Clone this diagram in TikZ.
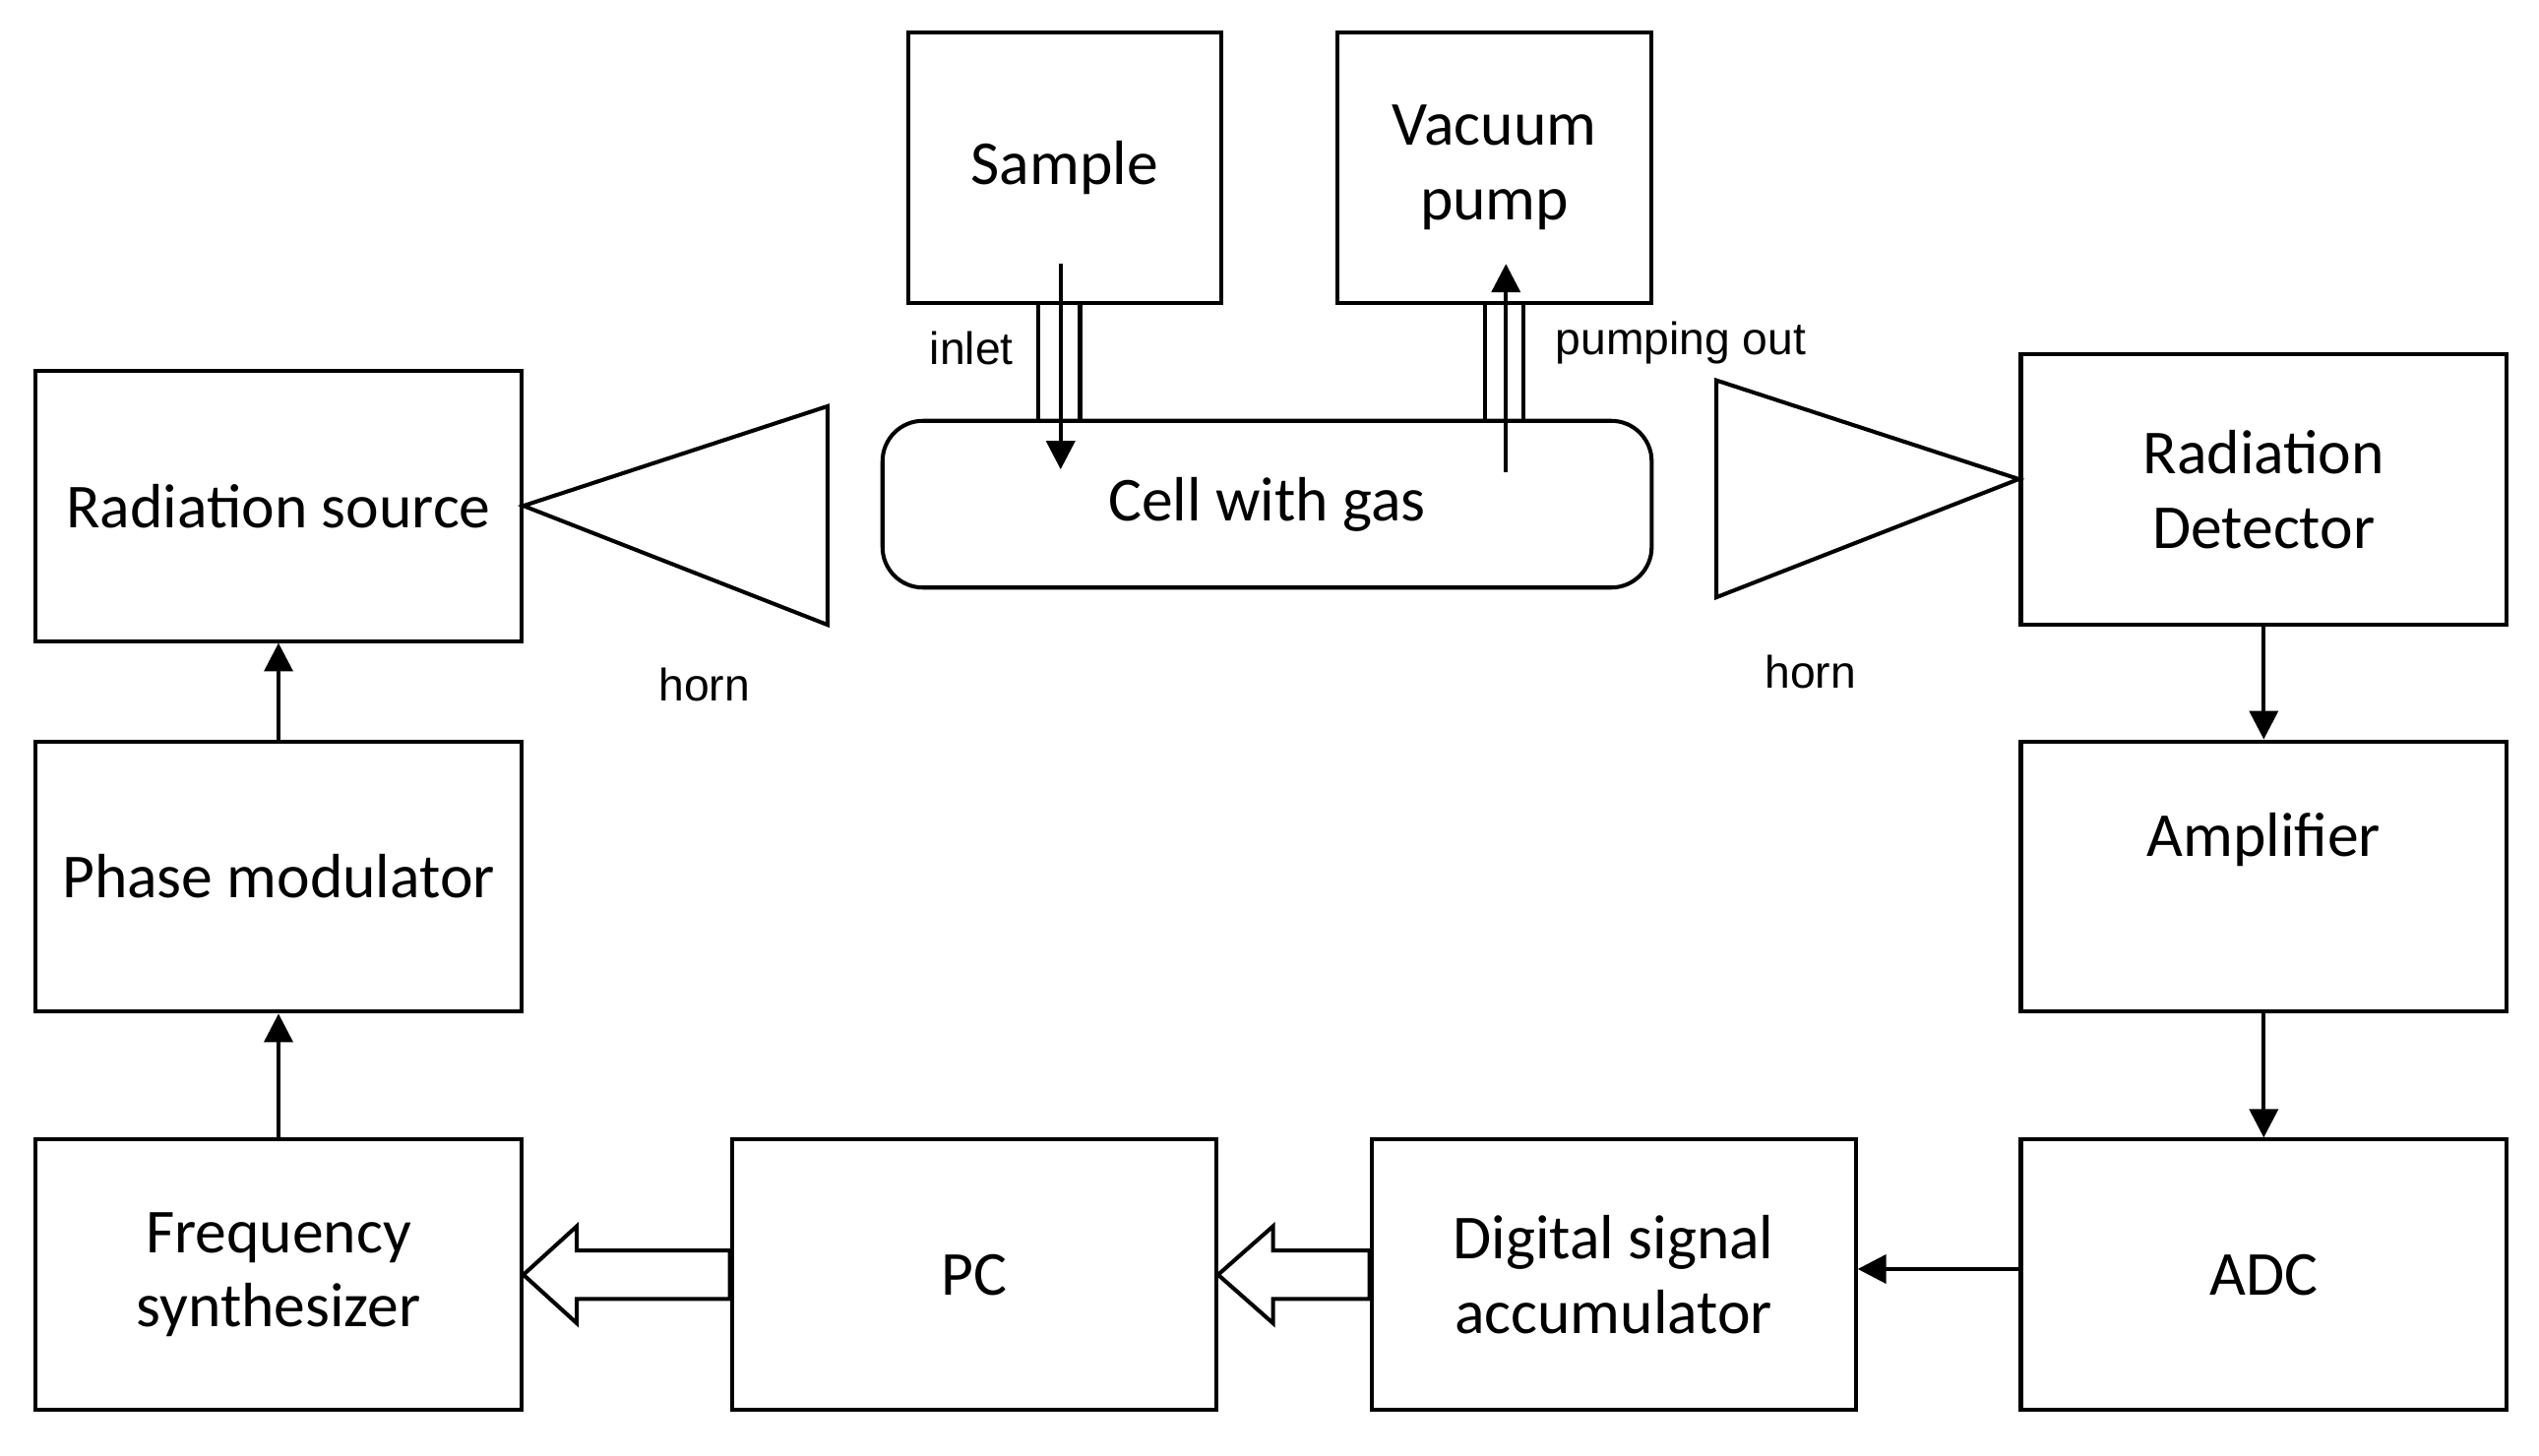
\documentclass[tikz,border=0pt]{standalone}
\usepackage{fontspec}
\setmainfont{Carlito}
\newfontfamily\labelfont{Liberation Sans}
\usetikzlibrary{arrows.meta,calc}
\tikzset{
  box/.style={draw, line width=0.7pt, minimum width=3cm, minimum height=1.67cm, align=center, font=\fontsize{11}{13}\selectfont},
  small/.style={font=\labelfont\fontsize{8}{10}\selectfont},
  arr/.style={-{Triangle[length=5pt,width=5pt]}, line width=0.7pt},
  hollow/.style={draw, line width=0.7pt, fill=white}
}
\begin{document}
\begin{tikzpicture}
\useasboundingbox (0,0) rectangle (15.68,8.99);
% main boxes
\node[box] (src) at (1.72,5.865) {Radiation source};
\node[box] (phase) at (1.72,3.575) {Phase modulator};
\node[box] (freq) at (1.72,1.115) {Frequency\\synthesizer};
\node[box, minimum width=2.99cm] (pc) at (6.015,1.115) {PC};
\node[box, minimum width=2.99cm] (dsa) at (9.965,1.115) {Digital signal\\accumulator};
\node[box] (adc) at (13.98,1.115) {ADC};
\node[box] (amp) at (13.98,3.575) {};
\node[font=\fontsize{11}{13}\selectfont] (amptext) at ([yshift=-0.62cm]amp.north) {Amplifier};
\node[box] (det) at (13.98,5.965) {Radiation\\Detector};
\node[box, minimum width=1.93cm] (sample) at (6.575,7.955) {Sample};
\node[box, minimum width=1.94cm] (pump) at (9.23,7.955) {Vacuum\\pump};
\node[box, minimum width=4.75cm, minimum height=1.03cm, rounded corners=0.25cm] (cell) at (7.825,5.875) {Cell with gas};

% horns
\coordinate (lh1) at (5.11,6.48);
\coordinate (lh2) at (5.11,5.13);
\coordinate (rh1) at (10.60,6.64);
\coordinate (rh2) at (10.60,5.30);
\coordinate (dettip) at ($(det.west)+(0,0.065)$);
\draw[line width=0.7pt] (src.east) -- (lh1) -- (lh2) -- cycle;
\draw[line width=0.7pt] (dettip) -- (rh1) -- (rh2) -- cycle;
\node[small] (hornl) at (4.35,4.76) {horn};
\node[small] (hornr) at (11.18,4.84) {horn};

% gas lines
\draw[line width=0.7pt] (6.41,7.12) -- (6.41,6.39) (6.67,7.12) -- (6.67,6.39);
\draw[line width=0.7pt] (9.17,7.12) -- (9.17,6.39) (9.41,7.12) -- (9.41,6.39);
\coordinate (inA) at (6.55,7.36);
\coordinate (inB) at (6.55,6.09);
\coordinate (outA) at (9.30,6.07);
\coordinate (outB) at (9.30,7.36);
\draw[arr] (inA) -- (inB);
\draw[arr] (outA) -- (outB);
\node[small] (inlet) at (6.00,6.84) {inlet};
\node[small] (pumpout) at (10.38,6.87) {pumping out};

% signal chain
\draw[arr] (freq) -- (phase);
\draw[arr] (phase) -- (src);
\draw[arr] (det) -- (amp);
\draw[arr] (amp) -- (adc);
\draw[arr] (adc.west |- 0,1.15) -- (dsa.east |- 0,1.15);

% hollow arrows
\draw[hollow] (freq.east) -- ++(0.33,0.3) -- ++(0,-0.15) -- ($(pc.west)+(0,0.15)$)
  -- ($(pc.west)+(0,-0.15)$) -- ($(freq.east)+(0.33,-0.15)$) -- ++(0,-0.15) -- cycle;
\draw[hollow] (pc.east) -- ++(0.34,0.3) -- ++(0,-0.15) -- ($(dsa.west)+(0,0.15)$)
  -- ($(dsa.west)+(0,-0.15)$) -- ($(pc.east)+(0.34,-0.15)$) -- ++(0,-0.15) -- cycle;
\end{tikzpicture}
\end{document}
